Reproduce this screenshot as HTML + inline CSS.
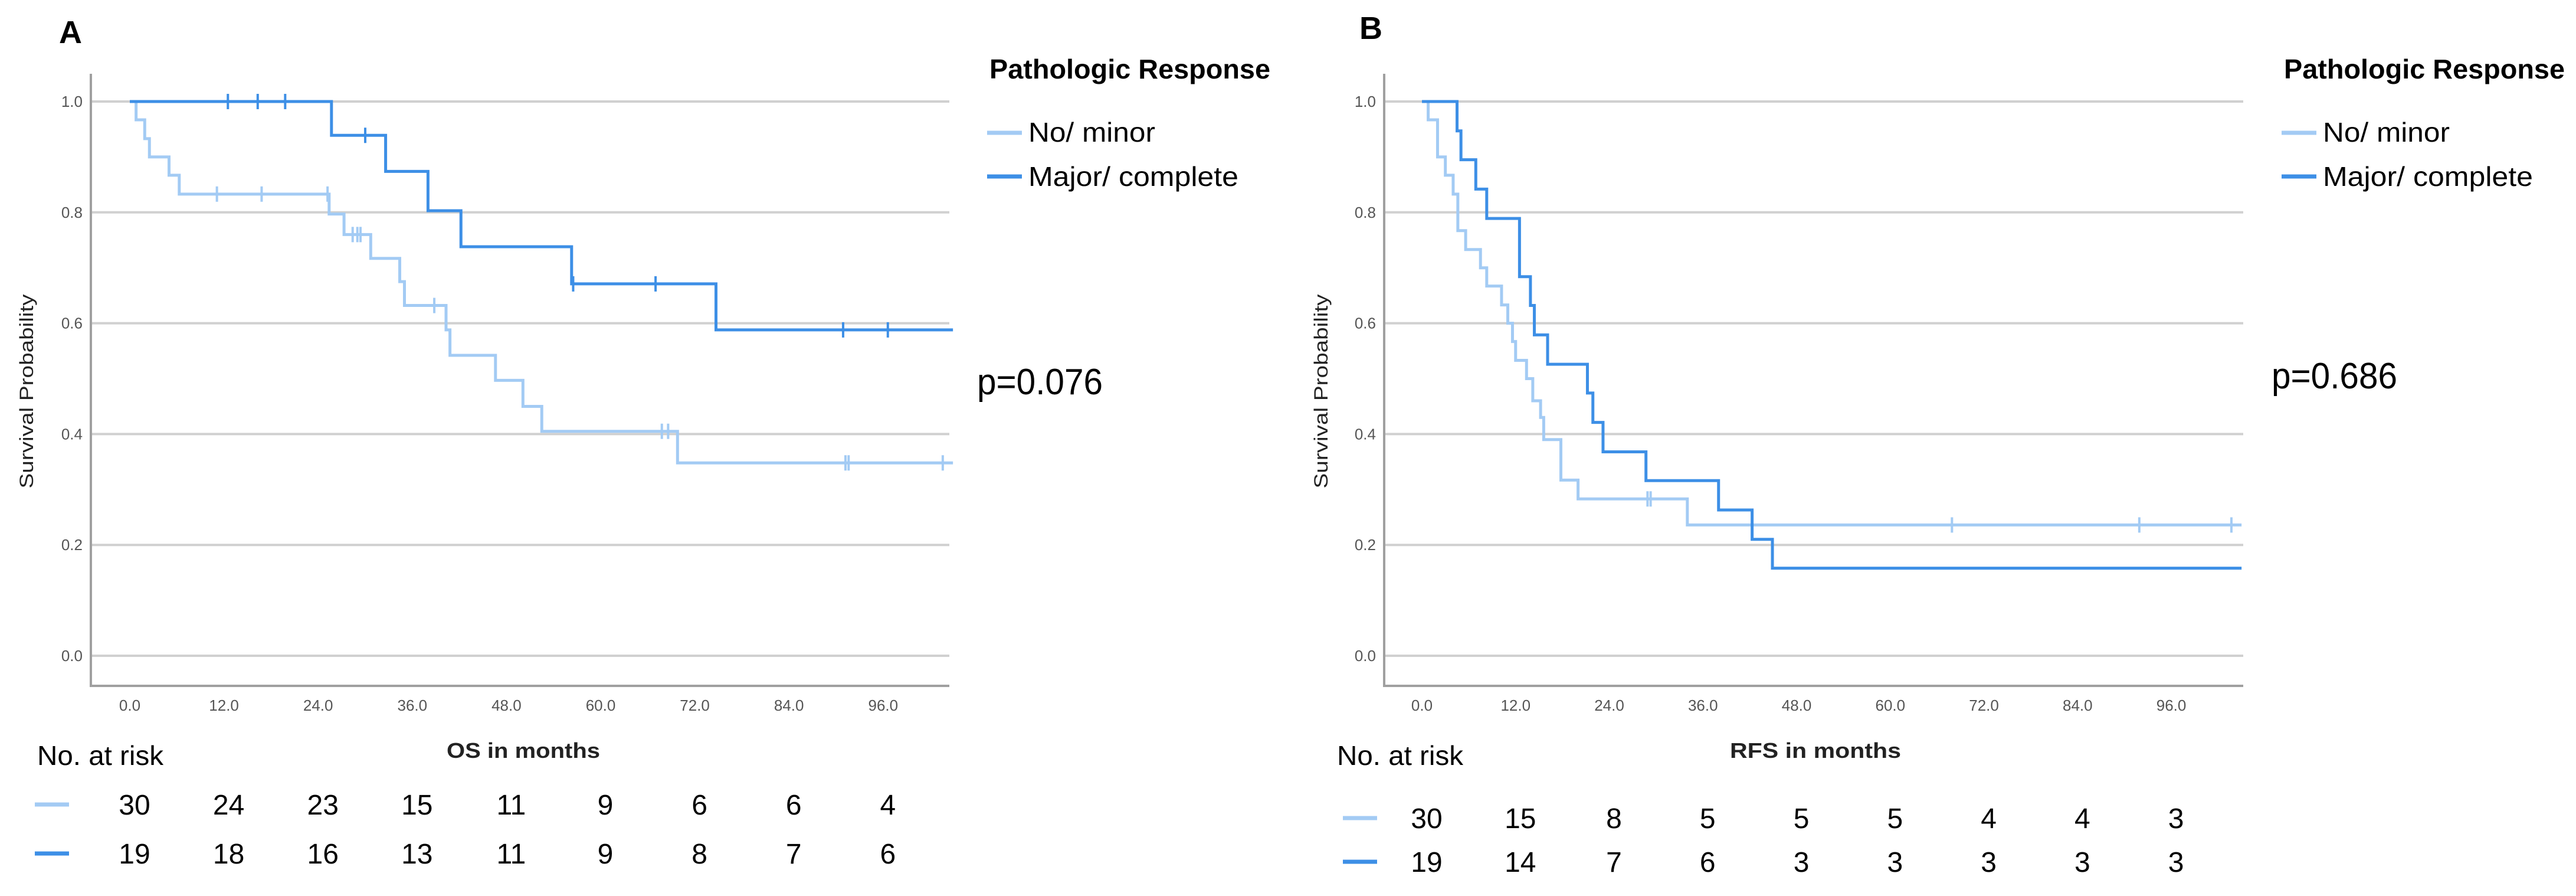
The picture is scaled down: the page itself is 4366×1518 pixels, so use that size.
<!DOCTYPE html>
<html><head><meta charset="utf-8"><style>
html,body{margin:0;padding:0;background:#fff}
svg text{font-family:"Liberation Sans",Arial,sans-serif}
</style></head><body>
<svg id="fig" xmlns="http://www.w3.org/2000/svg" width="4366" height="1513" viewBox="0 0 4366 1513"></svg>
<script>
// ---------- data ----------
const xTicks = [0, 12, 24, 36, 48, 60, 72, 84, 96];
const xTickLabels = ["0.0","12.0","24.0","36.0","48.0","60.0","72.0","84.0","96.0"];
const yTicks = [0, 0.2, 0.4, 0.6, 0.8, 1.0];
const yTickLabels = ["0.0","0.2","0.4","0.6","0.8","1.0"];
// Panel A (OS)
const osMinorTimes = [0.8,1.9,2.5,5.0,6.3,25.4,27.3,30.7,34.4,35.0,40.3,40.8,46.6,50.1,52.5,69.8];
const osMinorSurv  = [0.967,0.933,0.9,0.867,0.833,0.797,0.76,0.717,0.675,0.632,0.588,0.542,0.497,0.45,0.405,0.348];
const osMinorCens  = [11.1,16.8,25.2,28.4,29.0,29.4,38.8,67.8,68.6,91.2,91.6,103.6];
const osMajorTimes = [25.7,32.6,38.0,42.2,56.3,74.7];
const osMajorSurv  = [0.939,0.874,0.803,0.738,0.671,0.588];
const osMajorCens  = [12.5,16.3,19.8,30.0,56.5,67.0,90.9,96.6];
const osRiskMinor = [30,24,23,15,11,9,6,6,4];
const osRiskMajor = [19,18,16,13,11,9,8,7,6];
// Panel B (RFS)
const rfsMinorTimes = [0.8,2.0,3.0,4.0,4.6,5.6,7.5,8.3,10.2,11.0,11.6,12.0,13.4,14.2,15.2,15.6,17.8,20.0,34.0];
const rfsMinorSurv  = [0.967,0.9,0.867,0.833,0.767,0.733,0.7,0.667,0.633,0.6,0.567,0.533,0.5,0.46,0.43,0.39,0.317,0.283,0.236];
const rfsMinorCens  = [28.9,29.3,67.9,91.9,103.7];
const rfsMajorTimes = [4.5,5.0,6.9,8.3,12.5,13.9,14.4,16.1,21.2,21.9,23.2,28.7,38.0,42.3,44.9];
const rfsMajorSurv  = [0.947,0.895,0.842,0.789,0.684,0.632,0.579,0.526,0.474,0.421,0.368,0.316,0.263,0.21,0.158];
const rfsMajorCens  = [];
const rfsRiskMinor = [30,15,8,5,5,5,4,4,3];
const rfsRiskMajor = [19,14,7,6,3,3,3,3,3];

const LIGHT = "#a3cbf4", DARK = "#3d8fe6";
const NS = "http://www.w3.org/2000/svg";
const svg = document.getElementById("fig");
function mk(tag, attrs, parent){ const e=document.createElementNS(NS,tag); for(const k in attrs) e.setAttribute(k,attrs[k]); (parent||svg).appendChild(e); return e; }
function txt(str, attrs, parent){ const e=mk("text",attrs,parent); e.textContent=str; return e; }

function panel(cfg){
  const g = mk("g",{});
  
  
  const X = m => cfg.x0 + m*cfg.pxPerMonth;
  const Y = p => cfg.y0 - p*(cfg.y0-cfg.y1);
  // panel letter
  const L = txt(cfg.letter,{x:cfg.letterX,y:cfg.letterY,"font-size":54,"font-weight":"bold",fill:"#000"},g);
  
  
  // gridlines
  yTicks.forEach((t,i)=>{
    const ln = mk("line",{x1:cfg.axL,x2:cfg.axR,y1:Y(t),y2:Y(t),stroke:"#d0d0d0","stroke-width":4},g);
    
    
    const tl = txt(yTickLabels[i],{x:cfg.axL-14,y:Y(t)+9,"font-size":26,"text-anchor":"end",fill:"#555"},g);
    
    
  });
  // axes
  const ax = mk("polyline",{points:`${cfg.axL},${cfg.axTop} ${cfg.axL},${cfg.axB} ${cfg.axR},${cfg.axB}`,fill:"none",stroke:"#a0a0a0","stroke-width":4},g);
  
  
  xTicks.forEach((t,i)=>{
    const tl = txt(xTickLabels[i],{x:X(t),y:1204,"font-size":26,"text-anchor":"middle",fill:"#555"},g);
    
    
  });
  const yt = txt("Survival Probability",{transform:`translate(${cfg.yTitleX},663) rotate(-90)`,"font-size":32,"text-anchor":"middle",textLength:329,lengthAdjust:"spacingAndGlyphs",fill:"#222"},g);
  
  
  const xt = txt(cfg.xTitle,{x:cfg.xTitleX,y:1284,"font-size":36,"font-weight":"bold","text-anchor":"middle",textLength:cfg.xTitleLen,lengthAdjust:"spacingAndGlyphs",fill:"#222"},g);
  
  
  // curves
  function curve(times,surv,cens,color,name){
    let pts=[[0,1]]; let s=1;
    times.forEach((t,i)=>{ pts.push([t,s]); s=surv[i]; pts.push([t,s]); });
    pts.push([cfg.maxT,s]);
    const pl = mk("polyline",{points:pts.map(p=>X(p[0])+","+Y(p[1])).join(" "),fill:"none",stroke:color,"stroke-width":5},g);
    
    
    cens.forEach(c=>{
      let sv=1; times.forEach((t,i)=>{ if(t<=c) sv=surv[i]; });
      const m = mk("line",{x1:X(c),x2:X(c),y1:Y(sv)-13,y2:Y(sv)+13,stroke:color,"stroke-width":4},g);
      
      
    });
  }
  curve(cfg.minorT,cfg.minorS,cfg.minorC,LIGHT,"no-minor");
  curve(cfg.majorT,cfg.majorS,cfg.majorC,DARK,"major-complete");
  // legend
  const lt = txt("Pathologic Response",{x:cfg.legX,y:133,"font-size":46,"font-weight":"bold",textLength:476,lengthAdjust:"spacingAndGlyphs",fill:"#000"},g);
  
  
  [["No/ minor",LIGHT,225,240,215],["Major/ complete",DARK,299,315,356]].forEach(r=>{
    const sw = mk("line",{x1:cfg.legX-4,x2:cfg.legX+55,y1:r[2],y2:r[2],stroke:r[1],"stroke-width":7},g);
    
    
    const t = txt(r[0],{x:cfg.legX+66,y:r[3],"font-size":46,textLength:r[4],lengthAdjust:"spacingAndGlyphs",fill:"#000"},g);
    
    
  });
  const p = txt(cfg.pText,{x:cfg.pX,y:cfg.pY,"font-size":62,textLength:213,lengthAdjust:"spacingAndGlyphs",fill:"#000"},g);
  
  
  // risk table
  const rt = txt("No. at risk",{x:cfg.riskLabelX,y:1296,"font-size":46,textLength:214,lengthAdjust:"spacingAndGlyphs",fill:"#000"},g);
  
  
  [[cfg.riskMinor,LIGHT,cfg.riskY1],[cfg.riskMajor,DARK,cfg.riskY2]].forEach(r=>{
    const sw = mk("line",{x1:cfg.riskSwX,x2:cfg.riskSwX+58,y1:r[2]-17,y2:r[2]-17,stroke:r[1],"stroke-width":7},g);
    
    
    r[0].forEach((n,i)=>{
      const t = txt(String(n),{x:X(xTicks[i])+8,y:r[2],"font-size":48,"text-anchor":"middle",fill:"#000"},g);
      
      
    });
  });
}

panel({name:"panel-a-os",letter:"A",letterX:100,letterY:73,x0:220,pxPerMonth:13.3,y0:1111,y1:172,
  axL:154,axR:1609,axTop:125,axB:1162,maxT:104.9,yTitleX:56,xTitle:"OS in months",xTitleX:887,xTitleLen:260,
  minorT:osMinorTimes,minorS:osMinorSurv,minorC:osMinorCens,majorT:osMajorTimes,majorS:osMajorSurv,majorC:osMajorCens,
  legX:1677,pText:"p=0.076",pX:1656,pY:668,riskLabelX:63,riskSwX:59,riskY1:1380,riskY2:1463,riskMinor:osRiskMinor,riskMajor:osRiskMajor});
panel({name:"panel-b-rfs",letter:"B",letterX:2304,letterY:66,x0:2410,pxPerMonth:13.23,y0:1111,y1:172,
  axL:2346,axR:3802,axTop:125,axB:1162,maxT:105,yTitleX:2250,xTitle:"RFS in months",xTitleX:3077,xTitleLen:290,
  minorT:rfsMinorTimes,minorS:rfsMinorSurv,minorC:rfsMinorCens,majorT:rfsMajorTimes,majorS:rfsMajorSurv,majorC:rfsMajorCens,
  legX:3871,pText:"p=0.686",pX:3850,pY:658,riskLabelX:2266,riskSwX:2276,riskY1:1403,riskY2:1477,riskMinor:rfsRiskMinor,riskMajor:rfsRiskMajor});
</script>
</body></html>
